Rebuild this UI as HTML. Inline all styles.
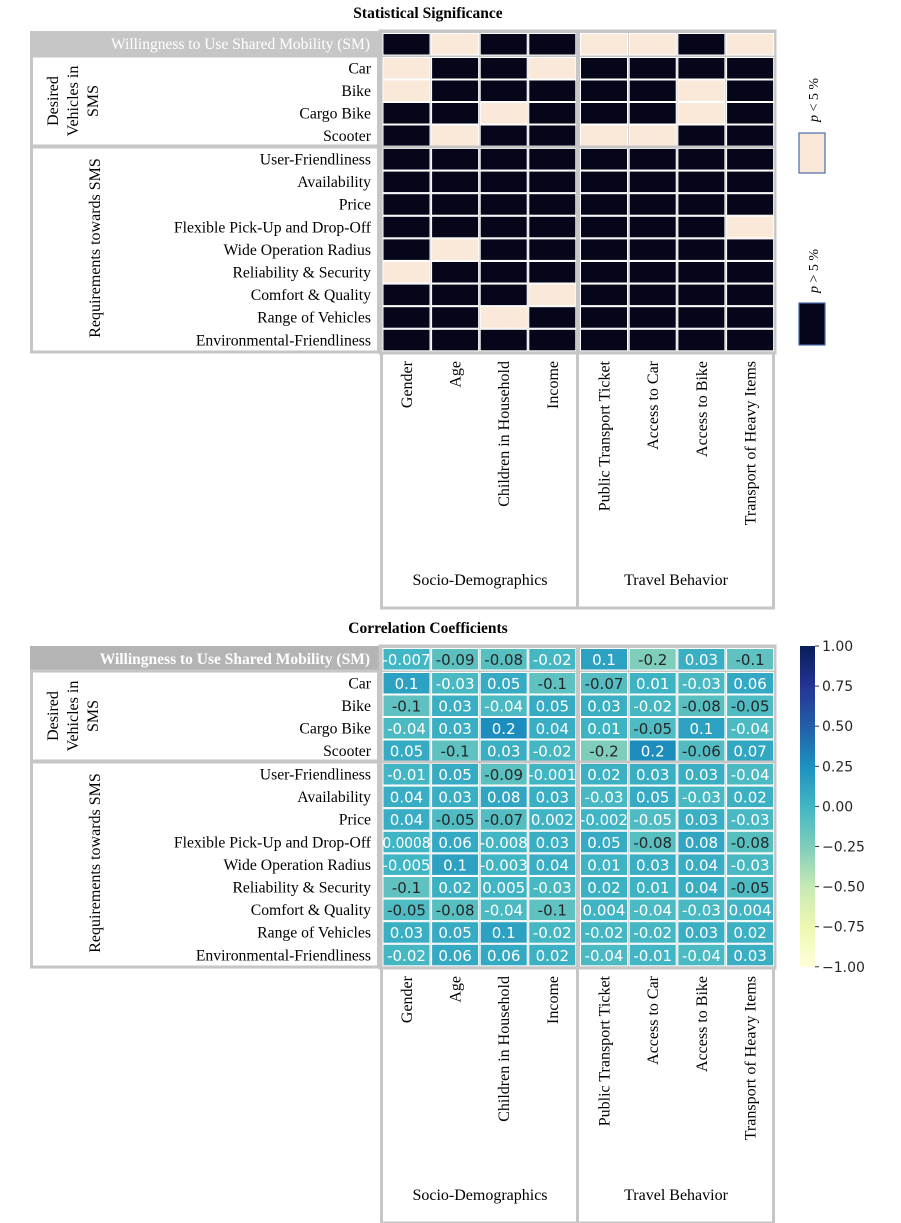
<!DOCTYPE html>
<html><head><meta charset="utf-8"><style>
html,body{margin:0;padding:0;background:#fff;}
svg{display:block;}
.s{font-family:"Liberation Serif",serif;}
.d{font-family:"DejaVu Sans",sans-serif;}
</style></head><body>
<svg id="c" width="901" height="1223" xmlns="http://www.w3.org/2000/svg"></svg>
<script>
const S=document.getElementById('c');
let h='';
const rows=["Car","Bike","Cargo Bike","Scooter","User-Friendliness","Availability","Price","Flexible Pick-Up and Drop-Off","Wide Operation Radius","Reliability &amp; Security","Comfort &amp; Quality","Range of Vehicles","Environmental-Friendliness"];
const cols=["Gender","Age","Children in Household","Income","Public Transport Ticket","Access to Car","Access to Bike","Transport of Heavy Items"];
const sig=[[1,0,1,1,0,0,1,0],[0,1,1,0,1,1,1,1],[0,1,1,1,1,1,0,1],[1,1,0,1,1,1,0,1],[1,0,1,1,0,0,1,1],
[1,1,1,1,1,1,1,1],[1,1,1,1,1,1,1,1],[1,1,1,1,1,1,1,1],[1,1,1,1,1,1,1,0],[1,0,1,1,1,1,1,1],[0,1,1,1,1,1,1,1],[1,1,1,0,1,1,1,1],[1,1,0,1,1,1,1,1],[1,1,1,1,1,1,1,1]];
const cor=[
["-0.007","-0.09*","-0.08*","-0.02","0.1","-0.2*","0.03","-0.1*"],
["0.1","-0.03","0.05","-0.1*","-0.07*","0.01","-0.03","0.06"],
["-0.1*","0.03","-0.04","0.05","0.03","-0.02","-0.08*","-0.05*"],
["-0.04","0.03","0.2","0.04","0.01","-0.05*","0.1","-0.04"],
["0.05","-0.1*","0.03","-0.02","-0.2*","0.2","-0.06*","0.07"],
["-0.01","0.05","-0.09*","-0.001","0.02","0.03","0.03","-0.04"],
["0.04","0.03","0.08","0.03","-0.03","0.05","-0.03","0.02"],
["0.04","-0.05*","-0.07*","0.002","-0.002","-0.05","0.03","-0.03"],
["0.0008","0.06","-0.008","0.03","0.05","-0.08*","0.08","-0.08*"],
["-0.005","0.1","-0.003","0.04","0.01","0.03","0.04","-0.03"],
["-0.1*","0.02","0.005","-0.03","0.02","0.01","0.04","-0.05*"],
["-0.05*","-0.08*","-0.04","-0.1*","0.004","-0.04","-0.03","0.004"],
["0.03","0.05","0.1","-0.02","-0.02","-0.02","0.03","0.02"],
["-0.02","0.06","0.06","0.02","-0.04","-0.01","-0.04","0.03"]];
const stops=["#ffffd9","#edf8b1","#c7e9b4","#7fcdbb","#41b6c4","#1d91c0","#225ea8","#253494","#081d58"];
function hx(c){return [1,3,5].map(i=>parseInt(c.substr(i,2),16));}
function cmap(v){let t=(v+1)/2*8;let i=Math.min(7,Math.floor(t));let f=t-i;let a=hx(stops[i]),b=hx(stops[i+1]);
return 'rgb('+a.map((x,k)=>Math.round(x+(b[k]-x)*f)).join(',')+')';}
const cx=[],rowY=[];
for(let i=0;i<4;i++)cx.push(382+i*48.6);
for(let i=0;i<4;i++)cx.push(579.5+i*48.7);
rowY.push(34);for(let i=0;i<4;i++)rowY.push(58+i*22.5);for(let i=0;i<9;i++)rowY.push(149+i*22.6);
const G="#c6c6c6";
function fig(o,title,corr){
 h+=`<text class="s" x="428" y="${o+18}" text-anchor="middle" font-size="15.5" font-weight="bold">${title}</text>`;
 h+=`<rect x="30" y="${o+31}" width="350" height="25" fill="${corr?'#b4b4b4':G}"/>`;
 h+=`<text class="s" x="370" y="${o+49}" text-anchor="end" font-size="15.5" fill="#fff" ${corr?'font-weight="bold"':''}>Willingness to Use Shared Mobility (SM)</text>`;
 h+=`<rect x="31.5" y="${o+56}" width="347" height="90" fill="none" stroke="${G}" stroke-width="3"/>`;
 h+=`<rect x="31.5" y="${o+147}" width="347" height="205" fill="none" stroke="${G}" stroke-width="3"/>`;
 h+=`<rect x="380" y="${o+31}" width="395" height="322" fill="${G}"/>`;
 h+=`<rect x="380" y="${o+31}" width="395" height="322" fill="none" stroke="${G}" stroke-width="3"/>`;
 for(let r=0;r<14;r++){const y=o+rowY[r],hh=20.5;
  for(let c=0;c<8;c++){const x=cx[c]+1.5,w=46;
   if(!corr){h+=`<rect x="${x-1}" y="${y-1}" width="${w+2}" height="${hh+2}" fill="#fff"/><rect x="${x}" y="${y}" width="${w}" height="${hh}" fill="${sig[r][c]?'#05061a':'#fae8d8'}"/>`;}
   else{let s=corr[r][c],dk=s.endsWith('*');s=s.replace('*','');const v=parseFloat(s);
    h+=`<rect x="${x-1}" y="${y-1}" width="${w+2}" height="${hh+2}" fill="#fff"/><rect x="${x}" y="${y}" width="${w}" height="${hh}" fill="${cmap(v*1.3+0.01)}"/>`;
    const long=s.length>5;
    h+=`<text class="d" x="${x+w/2}" y="${y+16}" text-anchor="middle" font-size="15" fill="${dk?'#262626':'#fff'}" ${long?'textLength="48" lengthAdjust="spacingAndGlyphs"':''}>${s}</text>`;}
  }}
 h+=`<rect x="576" y="${o+31}" width="3" height="${608-31}" fill="${G}"/>`;
 h+=`<rect x="380" y="${o+145.5}" width="395" height="3" fill="${G}"/>`;
 for(let r=1;r<14;r++)h+=`<text class="s" x="371" y="${o+rowY[r]+15.5}" text-anchor="end" font-size="15.7">${rows[r-1]}</text>`;
 h+=`<g transform="translate(72,${o+101}) rotate(-90)"><text class="s" x="0" y="-14" text-anchor="middle" font-size="16">Desired</text><text class="s" x="0" y="6" text-anchor="middle" font-size="16">Vehicles in</text><text class="s" x="0" y="26" text-anchor="middle" font-size="16">SMS</text></g>`;
 h+=`<text class="s" transform="translate(100,${o+248}) rotate(-90)" text-anchor="middle" font-size="16">Requirements towards SMS</text>`;
 h+=`<rect x="381.5" y="${o+353}" width="392" height="255" fill="none" stroke="${G}" stroke-width="3"/>`;
 for(let c=0;c<8;c++)h+=`<text class="s" transform="translate(${cx[c]+30},${o+361}) rotate(-90)" text-anchor="end" font-size="16">${cols[c]}</text>`;
 h+=`<text class="s" x="480" y="${o+585}" text-anchor="middle" font-size="16">Socio-Demographics</text>`;
 h+=`<text class="s" x="676" y="${o+585}" text-anchor="middle" font-size="16">Travel Behavior</text>`;
}
fig(0,"Statistical Significance",null);
fig(615,"Correlation Coefficients",cor);
h+=`<rect x="799" y="133" width="26" height="40" fill="#fae8d8" stroke="#4a6aa8" stroke-width="1.2"/>`;
h+=`<rect x="799" y="303" width="26" height="42" fill="#05061a" stroke="#4a6aa8" stroke-width="1.2"/>`;
h+=`<text class="s" transform="translate(818,100) rotate(-90)" text-anchor="middle" font-size="14"><tspan font-style="italic">p</tspan> &lt; 5 %</text>`;
h+=`<text class="s" transform="translate(818,271) rotate(-90)" text-anchor="middle" font-size="14"><tspan font-style="italic">p</tspan> &gt; 5 %</text>`;
h+=`<defs><linearGradient id="g" x1="0" y1="1" x2="0" y2="0">${stops.map((s,i)=>`<stop offset="${i/8}" stop-color="${s}"/>`).join('')}</linearGradient></defs>`;
h+=`<rect x="800" y="646" width="15" height="321" fill="url(#g)"/>`;
const tl=["1.00","0.75","0.50","0.25","0.00","\u22120.25","\u22120.50","\u22120.75","\u22121.00"];
for(let i=0;i<9;i++){const y=646+i*40.1;h+=`<line x1="815" y1="${y}" x2="819" y2="${y}" stroke="#333" stroke-width="1"/><text class="d" x="822" y="${y+5}" font-size="14" fill="#262626">${tl[i]}</text>`;}
S.innerHTML=h;
</script>
</body></html>
